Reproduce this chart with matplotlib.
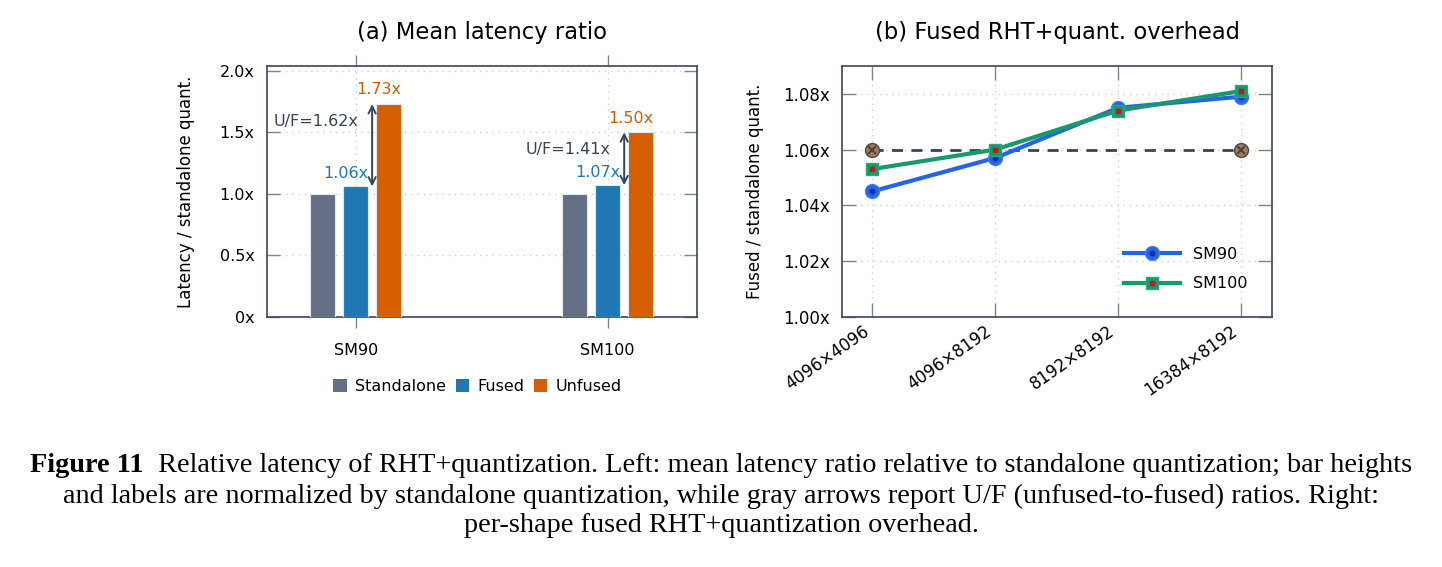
import matplotlib
matplotlib.use('Agg')
import matplotlib.pyplot as plt
import numpy as np
from matplotlib.patches import Patch

# ---------------- data ----------------
groups = ['SM90', 'SM100']
series_names = ['Standalone', 'Fused', 'Unfused']
standalone = [1.00, 1.00]
fused = [1.06, 1.07]
unfused = [1.73, 1.50]
uf_ratio = [1.62, 1.41]

shapes = ['4096×4096', '4096×8192', '8192×8192', '16384×8192']
sm90 = [1.045, 1.057, 1.075, 1.079]
sm100 = [1.053, 1.060, 1.074, 1.081]
ref_level = 1.06
ref_idx = [0, 3]

left_yticks = [0, 0.5, 1.0, 1.5, 2.0]
left_yticklabels = ['0x', '0.5x', '1.0x', '1.5x', '2.0x']
right_yticks = [1.00, 1.02, 1.04, 1.06, 1.08]
right_yticklabels = ['1.00x', '1.02x', '1.04x', '1.06x', '1.08x']

title_a = '(a) Mean latency ratio'
title_b = '(b) Fused RHT+quant. overhead'
ylabel_a = 'Latency / standalone quant.'
ylabel_b = 'Fused / standalone quant.'

cap_bold = 'Figure 11'
cap_rest = '  Relative latency of RHT+quantization. Left: mean latency ratio relative to standalone quantization; bar heights'
cap_line2 = 'and labels are normalized by standalone quantization, while gray arrows report U/F (unfused-to-fused) ratios. Right:'
cap_line3 = 'per-shape fused RHT+quantization overhead.'

# ---------------- style ----------------
c_stand = '#646e84'
c_fused = '#1f77b4'
c_unf = '#d55e00'
c_dark = '#38435a'
c_spine = '#3d4759'
c_tick = '#7d8594'
c_grid = '#c4c8d0'
c_sm90 = '#2563eb'
c_sm100 = '#17996b'
fs = 11.5

plt.rcParams['font.family'] = ['DejaVu Sans']
W, H = 1442, 567
fig = plt.figure(figsize=(W / 100, H / 100), dpi=100)


def ax_rect(x0, y0, x1, y1):
    return [x0 / W, 1 - y1 / H, (x1 - x0) / W, (y1 - y0) / H]


ax1 = fig.add_axes(ax_rect(266.7, 66, 696.7, 316.7))
ax2 = fig.add_axes(ax_rect(841.7, 66, 1271.7, 316.7))

for ax in (ax1, ax2):
    for s in ax.spines.values():
        s.set_color(c_spine)
        s.set_linewidth(1.2)
    ax.grid(True, linestyle=(0, (1, 4)), color=c_grid, linewidth=0.9)
    ax.set_axisbelow(True)

# ---------------- left panel ----------------
x = np.arange(len(groups))
w = 0.098
off = 0.1306
bar_sets = [(standalone, -off, c_stand), (fused, 0.0, c_fused), (unfused, off, c_unf)]
handles = []
for (vals, dx, col), name in zip(bar_sets, series_names):
    ax1.bar(x + dx, vals, width=w, color=col, edgecolor='#e4e8ee', linewidth=0.8, zorder=3)
    handles.append(Patch(facecolor=col, edgecolor='none', label=name))

for i in range(len(groups)):
    ax1.text(x[i] - 0.038, fused[i] + 0.07, f'{fused[i]:.2f}x', color=c_fused,
             ha='center', va='baseline', fontsize=fs, zorder=5)
    ax1.text(x[i] + off - 0.038, unfused[i] + 0.08, f'{unfused[i]:.2f}x', color=c_unf,
             ha='center', va='baseline', fontsize=fs, zorder=5)
    ax_x = x[i] + off / 2
    ax1.annotate('', xy=(ax_x, unfused[i]), xytext=(ax_x, fused[i]),
                 arrowprops=dict(arrowstyle='<->', color=c_dark, lw=1.4,
                                 shrinkA=0, shrinkB=0, mutation_scale=13), zorder=6)
    ax1.text(ax_x - 0.055, unfused[i] - 0.14, f'U/F={uf_ratio[i]:.2f}x', color=c_dark,
             ha='right', va='center', fontsize=fs, zorder=5)

ax1.set_xlim(-0.353, 1.353)
ax1.set_ylim(0, 2.04)
ax1.set_xticks(x)
ax1.set_xticklabels(groups)
ax1.set_yticks(left_yticks)
ax1.set_yticklabels(left_yticklabels)
ax1.tick_params(axis='x', direction='out', top=True, bottom=True, length=8, width=1,
                color=c_tick, pad=11, labelsize=fs)
ax1.tick_params(axis='y', direction='in', left=True, right=True, length=9.5, width=1,
                color=c_tick, pad=8.8, labelsize=fs)
ax1.set_ylabel(ylabel_a, fontsize=12)
ax1.yaxis.set_label_coords(-0.166, 0.5)
ax1.legend(handles=handles, loc='center', bbox_to_anchor=(0.49, -0.28), ncol=3,
           frameon=False, fontsize=fs, handlelength=0.85, handleheight=0.85,
           handletextpad=0.5, columnspacing=0.6)

# ---------------- right panel ----------------
x2 = np.arange(len(shapes))
ref_x = [x2[j] for j in ref_idx]
ax2.plot(ref_x, [ref_level] * len(ref_x), linestyle=(0, (4, 3)), color=c_dark, lw=2, zorder=2)
ax2.plot(ref_x, [ref_level] * len(ref_x), 'o', ms=10, mfc='#ad7b42', mec='#4a4a52', mew=1.0, zorder=2.2)
ax2.plot(ref_x, [ref_level] * len(ref_x), 'x', ms=5.5, color=c_dark, mew=1.4, zorder=2.3)

l90, = ax2.plot(x2, sm90, '-', color=c_sm90, lw=3, marker='o', ms=10,
                mfc=c_sm90, mec='#3d7cf2', zorder=3)
d90, = ax2.plot(x2, sm90, 'o', ms=3.2, color='#1430a8', zorder=3.1)
l100, = ax2.plot(x2, sm100, '-', color=c_sm100, lw=3, marker='s', ms=9,
                 mfc=c_sm100, mec='#2aa77a', zorder=4)
d100, = ax2.plot(x2, sm100, 's', ms=3.2, color='#c8161c', zorder=4.1)

ax2.set_xlim(-0.25, 3.25)
ax2.set_ylim(1.0, 1.09)
ax2.set_xticks(x2)
ax2.set_xticklabels(shapes, rotation=35, ha='right')
ax2.set_yticks(right_yticks)
ax2.set_yticklabels(right_yticklabels)
ax2.tick_params(axis='both', direction='in', top=True, bottom=True, left=True, right=True,
                length=10, width=1, color=c_tick, labelsize=12)
ax2.tick_params(axis='y', pad=8.4)
ax2.tick_params(axis='x', pad=4)
ax2.set_ylabel(ylabel_b, fontsize=12)
ax2.yaxis.set_label_coords(-0.180, 0.5)
ax2.legend([(l90, d90), (l100, d100)], ['SM90', 'SM100'], loc='center',
           bbox_to_anchor=(0.80, 0.19), frameon=False, fontsize=fs, handlelength=3.5,
           handletextpad=0.85, labelspacing=0.9)

# ---------------- titles ----------------
fig.text(482 / W, 1 - 33 / H, title_a, ha='center', va='center', fontsize=16.3)
fig.text(1057 / W, 1 - 33 / H, title_b, ha='center', va='center', fontsize=16.3)

# ---------------- caption ----------------
renderer = fig.canvas.get_renderer()
cap_font = 'Liberation Serif'
cap_size = 17
tb = fig.text(0, 0, cap_bold, fontsize=cap_size, family=cap_font, weight='bold')
tr = fig.text(0, 0, cap_rest, fontsize=cap_size, family=cap_font)
wb = tb.get_window_extent(renderer).width
wr = tr.get_window_extent(renderer).width
scale = 1383 / (wb + wr)
cap_size *= scale
tb.set_fontsize(cap_size)
tr.set_fontsize(cap_size)
wb = tb.get_window_extent(renderer).width
wr = tr.get_window_extent(renderer).width
x0 = 721 - (wb + wr) / 2
y1 = 1 - 466 / H
tb.set_position((x0 / W, y1))
tb.set_va('center')
tr.set_position(((x0 + wb) / W, y1))
tr.set_va('center')
fig.text(721 / W, 1 - 496 / H, cap_line2, fontsize=cap_size, family=cap_font,
         ha='center', va='center')
fig.text(721 / W, 1 - 526 / H, cap_line3, fontsize=cap_size, family=cap_font,
         ha='center', va='center')

fig.savefig('out.png', dpi=100)
